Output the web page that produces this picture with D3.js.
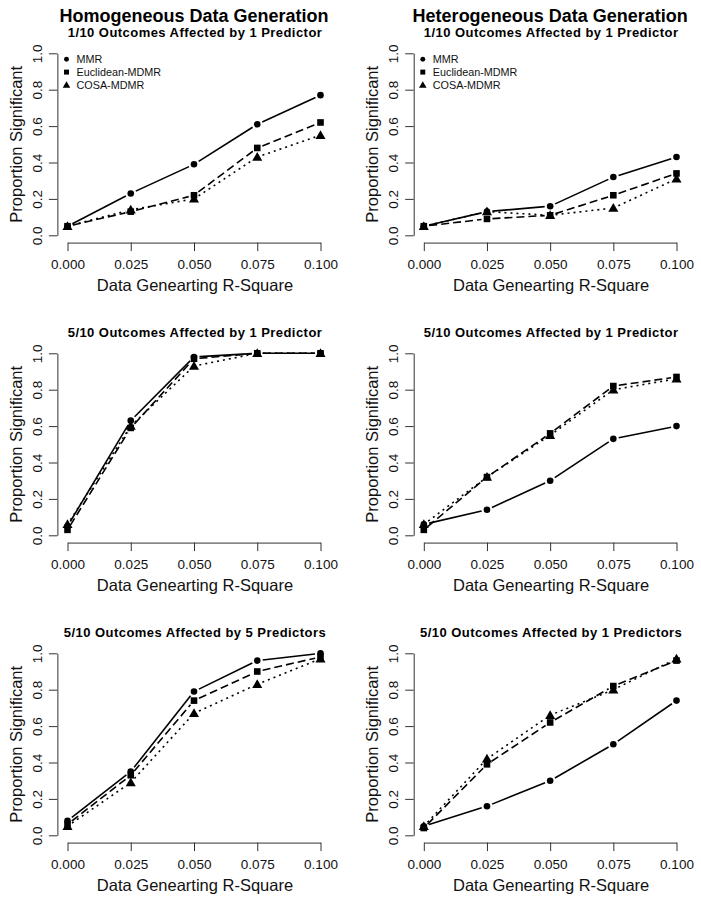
<!DOCTYPE html>
<html>
<head>
<meta charset="utf-8">
<script src="https://cdn.jsdelivr.net/npm/d3@7"></script>
<style>
  html, body { margin: 0; padding: 0; background: #fff; }
  svg { display: block; font-family: "Liberation Sans", Arial, Helvetica, sans-serif; }
</style>
</head>
<body>
<svg id="chart" width="701" height="902"></svg>
<script>
// ---------- data ----------
const xValues = [0, 0.025, 0.05, 0.075, 0.1];
const xTickLabels = ["0.000", "0.025", "0.050", "0.075", "0.100"];
const yTickValues = [0, 0.2, 0.4, 0.6, 0.8, 1.0];
const yTickLabels = ["0.0", "0.2", "0.4", "0.6", "0.8", "1.0"];
const methods = ["MMR", "Euclidean-MDMR", "COSA-MDMR"];
const columnTitles = ["Homogeneous Data Generation", "Heterogeneous Data Generation"];
const panelSubtitles = [
  "1/10 Outcomes Affected by 1 Predictor",
  "1/10 Outcomes Affected by 1 Predictor",
  "5/10 Outcomes Affected by 1 Predictor",
  "5/10 Outcomes Affected by 1 Predictor",
  "5/10 Outcomes Affected by 5 Predictors",
  "5/10 Outcomes Affected by 1 Predictors"
];
const xLabel = "Data Genearting R-Square";
const yLabel = "Proportion Significant";

// panel 1: homogeneous, 1/10 outcomes, 1 predictor
const homog1_MMR    = [0.05, 0.23, 0.39, 0.61, 0.77];
const homog1_Euclid = [0.05, 0.13, 0.22, 0.48, 0.62];
const homog1_COSA   = [0.05, 0.14, 0.20, 0.43, 0.55];
// panel 2: heterogeneous, 1/10 outcomes, 1 predictor
const heter1_MMR    = [0.05, 0.13, 0.16, 0.32, 0.43];
const heter1_Euclid = [0.05, 0.09, 0.11, 0.22, 0.34];
const heter1_COSA   = [0.05, 0.13, 0.11, 0.15, 0.31];
// panel 3: homogeneous, 5/10 outcomes, 1 predictor
const homog2_MMR    = [0.05, 0.63, 0.98, 1.00, 1.00];
const homog2_Euclid = [0.03, 0.59, 0.97, 1.00, 1.00];
const homog2_COSA   = [0.06, 0.60, 0.93, 1.00, 1.00];
// panel 4: heterogeneous, 5/10 outcomes, 1 predictor
const heter2_MMR    = [0.06, 0.14, 0.30, 0.53, 0.60];
const heter2_Euclid = [0.03, 0.32, 0.56, 0.82, 0.87];
const heter2_COSA   = [0.06, 0.32, 0.55, 0.80, 0.86];
// panel 5: homogeneous, 5/10 outcomes, 5 predictors
const homog3_MMR    = [0.08, 0.35, 0.79, 0.96, 1.00];
const homog3_Euclid = [0.06, 0.33, 0.74, 0.90, 0.98];
const homog3_COSA   = [0.05, 0.29, 0.67, 0.83, 0.97];
// panel 6: heterogeneous, 5/10 outcomes, 1 predictors
const heter3_MMR    = [0.05, 0.16, 0.30, 0.50, 0.74];
const heter3_Euclid = [0.04, 0.39, 0.62, 0.82, 0.96];
const heter3_COSA   = [0.05, 0.42, 0.66, 0.80, 0.97];

const panelSeries = [
  [homog1_MMR, homog1_Euclid, homog1_COSA],
  [heter1_MMR, heter1_Euclid, heter1_COSA],
  [homog2_MMR, homog2_Euclid, homog2_COSA],
  [heter2_MMR, heter2_Euclid, heter2_COSA],
  [homog3_MMR, homog3_Euclid, homog3_COSA],
  [heter3_MMR, heter3_Euclid, heter3_COSA]
];

// ---------- layout / style ----------
const colX = [{x0: 67.5, x1: 320.5}, {x0: 423.8, x1: 676.5}];
const rowTop = 53.3, rowBottom = 235.3, rowStep = 300;
const dashes = [null, "8,4", "2,4"];
const gap = 5.5;

const svg = d3.select("#chart");

function drawMarker(g, type, cx, cy, s) {
  if (type === 0) {
    g.append("circle").attr("cx", cx).attr("cy", cy).attr("r", 3.3 * s).attr("fill", "#000");
  } else if (type === 1) {
    const h = 3.3 * s;
    g.append("rect").attr("x", cx - h).attr("y", cy - h).attr("width", 2 * h).attr("height", 2 * h).attr("fill", "#000");
  } else {
    const sym = d3.symbol().type(d3.symbolTriangle).size(44 * s * s);
    g.append("path").attr("d", sym()).attr("transform", `translate(${cx},${cy + 0.8 * s})`).attr("fill", "#000");
  }
}

panelSeries.forEach((series, i) => {
  const col = i % 2, row = Math.floor(i / 2);
  const {x0, x1} = colX[col];
  const yTop = rowTop + row * rowStep, yBot = rowBottom + row * rowStep;
  const x = d3.scaleLinear().domain([0, 0.1]).range([x0, x1]);
  const y = d3.scaleLinear().domain([0, 1]).range([yBot, yTop]);
  const padX = (x1 - x0) * 0.04, padY = (yBot - yTop) * 0.04;
  const g = svg.append("g");

  // column title
  if (row === 0) {
    g.append("text").attr("x", (x0 + x1) / 2).attr("y", 21.5)
      .attr("text-anchor", "middle").attr("font-size", "18px").attr("font-weight", "bold")
      .text(columnTitles[col]);
  }
  // subtitle
  g.append("text").attr("x", (x0 + x1) / 2 + 1).attr("y", 36.5 + row * rowStep)
    .attr("text-anchor", "middle").attr("font-size", "13px").attr("font-weight", "bold")
    .attr("letter-spacing", "0.45px")
    .text(panelSubtitles[i]);

  // x axis
  const xAxis = d3.axisBottom(x).tickValues(xValues).tickSize(8.5).tickSizeOuter(0).tickPadding(4)
    .tickFormat((d, k) => xTickLabels[k]);
  const gx = g.append("g").attr("transform", `translate(0,${yBot + padY})`).call(xAxis);
  gx.selectAll(".domain").attr("stroke", "#333");
  gx.selectAll(".tick line").attr("stroke", "#333");
  gx.selectAll(".tick text").attr("font-size", "13.5px").attr("fill", "#111")
    .attr("font-family", "Liberation Sans, Arial, sans-serif").attr("dy", "1.05em");

  // y axis
  const yAxis = d3.axisLeft(y).tickValues(yTickValues).tickSize(8.5).tickSizeOuter(0)
    .tickFormat((d, k) => yTickLabels[k]);
  const gy = g.append("g").attr("transform", `translate(${x0 - padX},0)`).call(yAxis);
  gy.selectAll(".domain").attr("stroke", "#333");
  gy.selectAll(".tick line").attr("stroke", "#333");
  gy.selectAll(".tick text").attr("font-size", "13.5px").attr("fill", "#111")
    .attr("font-family", "Liberation Sans, Arial, sans-serif")
    .attr("text-anchor", "middle").attr("x", 0).attr("dy", "0.35em")
    .attr("transform", "translate(-20,0) rotate(-90)");

  // axis labels
  g.append("text").attr("x", (x0 + x1) / 2 + 1).attr("y", yBot + 56)
    .attr("text-anchor", "middle").attr("font-size", "16.5px").attr("fill", "#111").text(xLabel);
  g.append("text").attr("transform", `translate(${x0 - padX - 41},${(yTop + yBot) / 2}) rotate(-90)`)
    .attr("text-anchor", "middle").attr("dy", "0.35em").attr("font-size", "16.5px").attr("fill", "#111").text(yLabel);

  // series: lines with gaps (type = "b") and markers
  series.forEach((vals, si) => {
    const pts = vals.map((v, k) => [x(xValues[k]), y(v)]);
    for (let k = 0; k < pts.length - 1; k++) {
      const [ax, ay] = pts[k], [bx, by] = pts[k + 1];
      const L = Math.hypot(bx - ax, by - ay);
      if (L <= 2 * gap) continue;
      const ux = (bx - ax) / L, uy = (by - ay) / L;
      const seg = g.append("line")
        .attr("x1", ax + ux * gap).attr("y1", ay + uy * gap)
        .attr("x2", bx - ux * gap).attr("y2", by - uy * gap)
        .attr("stroke", "#000").attr("stroke-width", 1.6);
      if (dashes[si]) seg.attr("stroke-dasharray", dashes[si]);
    }
    pts.forEach(([px, py]) => drawMarker(g, si, px, py, 1));
  });

  // legend (top row only)
  if (row === 0) {
    const lx = x0 - 1, ly = yTop + 6;
    methods.forEach((m, k) => {
      const cy = ly + k * 12.8;
      drawMarker(g, k, lx, cy, 0.75);
      g.append("text").attr("x", lx + 10).attr("y", cy).attr("dy", "0.36em")
        .attr("font-size", "10.8px").attr("fill", "#111").text(m);
    });
  }
});
</script>
</body>
</html>
